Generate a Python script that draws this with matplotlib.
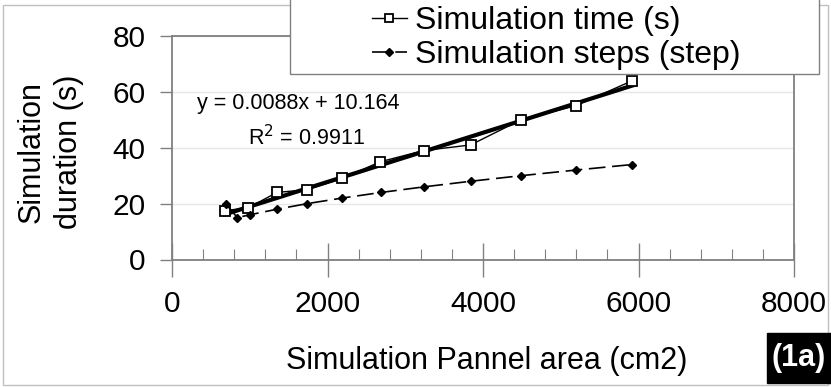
import matplotlib.pyplot as plt
from matplotlib import font_manager
from matplotlib.patches import Rectangle

plt.rcParams['font.family'] = ['Liberation Sans', 'DejaVu Sans']

# panel area (cm2) and simulation time (s)
area_time = [680, 980, 1350, 1740, 2190, 2680, 3240, 3840, 4490, 5190, 5920]
sim_time = [17.5, 18.5, 24, 25, 29, 35, 39, 41, 50, 55, 64]

# panel area (cm2) and simulation steps
area_steps = [690, 840, 1000, 1350, 1740, 2190, 2690, 3240, 3840, 4490, 5190, 5920]
sim_steps = [20, 15, 16, 18, 20, 22, 24, 26, 28, 30, 32, 34]

slope = 0.0088
intercept = 10.164

W, H = 831, 387
fig = plt.figure(figsize=(W / 100, H / 100), dpi=100)
ax = fig.add_axes([172 / W, 1 - 259.5 / H, 622 / W, 223.5 / H])

# trend line
tx = [min(area_time), max(area_time)]
ty = [slope * v + intercept for v in tx]
ax.plot(tx, ty, c='k', lw=3, zorder=3)

ax.plot(area_time, sim_time, c='k', lw=1, marker='s', ms=7.5, mfc='white',
        mec='k', mew=1.3, label='Simulation time (s)', zorder=4)
ax.plot(area_steps, sim_steps, c='k', lw=1.2, ls=(0, (10, 4)), marker='D', ms=4.5,
        label='Simulation steps (step)', zorder=4)

ax.set(xlim=(0, 8000), ylim=(0, 80))
ax.set_xticks([0, 2000, 4000, 6000, 8000])
ax.set_xticks(range(0, 8001, 400), minor=True)
ax.set_yticks([0, 20, 40, 60, 80])
ax.yaxis.grid(True, color='#e6e6e6', lw=1)
ax.set_axisbelow(True)
ax.tick_params(axis='x', which='major', direction='inout', length=24, width=1,
               color='#808080', labelsize=21.5, pad=10)
ax.tick_params(axis='x', which='minor', direction='in', length=8, width=0.8,
               color='#808080')
ax.tick_params(axis='y', direction='out', length=9, width=1, color='#808080',
               labelsize=21.5, pad=10)
for s in ax.spines.values():
    s.set_color('#808080')
    s.set_linewidth(1.3)

ax.set_xlabel('Simulation Pannel area (cm2)', fontsize=22)
ax.xaxis.set_label_coords(0.506, -0.385)
ax.set_ylabel('Simulation\nduration (s)', fontsize=22, linespacing=1.3)
ax.yaxis.set_label_coords(-0.142, 0.48)

ax.text(320, 56, 'y = 0.0088x + 10.164', fontsize=15.5, va='center')
ax.text(975, 43.5, 'R$^2$ = 0.9911', fontsize=15.5, va='center')

# legend box sits over the top right of the plot
names = [f.name for f in font_manager.fontManager.ttflist]
if 'Liberation Sans Narrow' in names:
    leg_font = {'family': 'Liberation Sans Narrow', 'size': 27}
else:
    leg_font = {'family': 'Liberation Sans', 'size': 23}
fig.patches.append(Rectangle((290 / W, 1 - 74 / H), 529 / W, 76 / H,
                             transform=fig.transFigure, fc='white', ec='#808080',
                             lw=1, zorder=4))
fig.legend(loc='center', bbox_to_anchor=(556 / W, 1 - 38 / H), prop=leg_font,
           frameon=False, handlelength=1.1, handletextpad=0.25,
           labelspacing=0.12, borderpad=0, markerscale=0.8)

# panel tag
fig.patches.append(Rectangle((767 / W, 1 - 383 / H), 64 / W, 50 / H,
                             transform=fig.transFigure, fc='black', ec='black',
                             zorder=4))
fig.text(799 / W, 1 - 358 / H, '(1a)', fontsize=22, fontweight='bold',
         color='white', ha='center', va='center', zorder=6)

# outer chart border
fig.patches.append(Rectangle((3 / W, 2 / H), 825 / W, 380 / H,
                             transform=fig.transFigure, fill=False, ec='#c0c0c0',
                             lw=1, zorder=-1))

fig.savefig('out.png', dpi=100)
